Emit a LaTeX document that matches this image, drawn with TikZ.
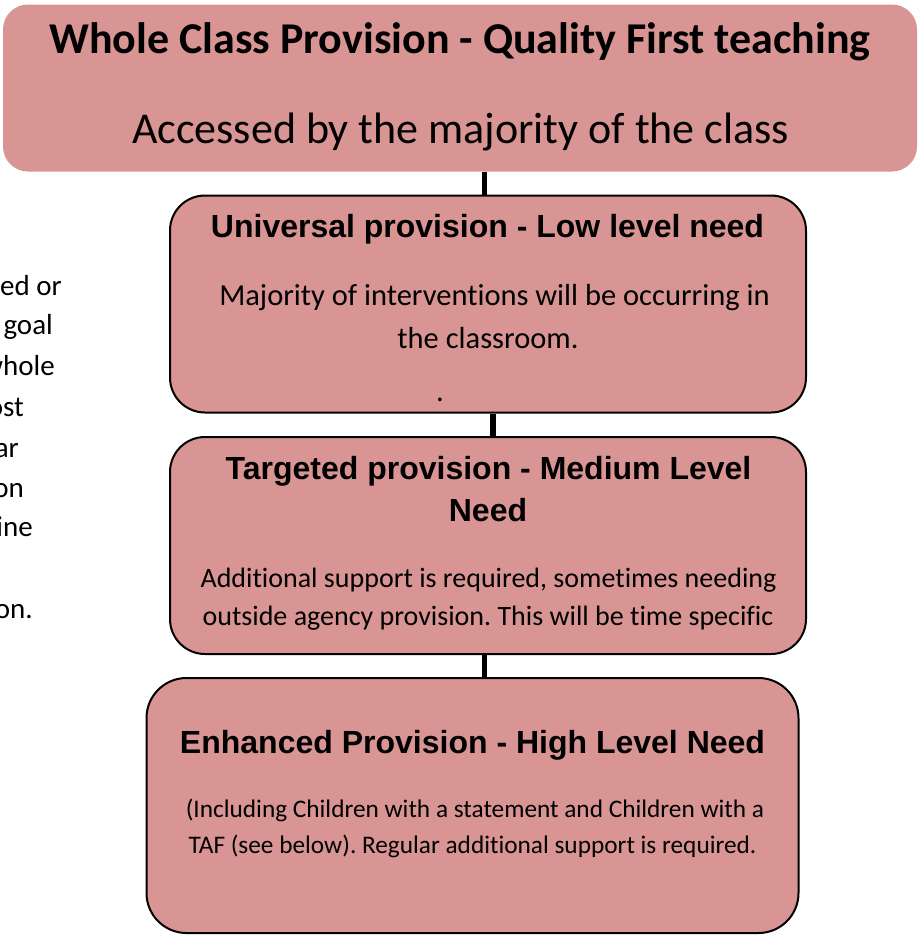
\documentclass[tikz,border=0pt]{standalone}
\usepackage{fontspec}
\setmainfont{Carlito}[Ligatures=NoCommon]
\newfontfamily\arialf{Liberation Sans}
\definecolor{boxpink}{RGB}{217,149,148}
\frenchspacing
\tikzset{
  pinkbox/.style={fill=boxpink, draw=black, line width=2pt, rounded corners=35pt, inner sep=0pt},
  topbox/.style={fill=boxpink, draw=none, rounded corners=25pt, inner sep=0pt},
  conn/.style={draw=black, line width=5.5pt},
  txt/.style={anchor=base, inner sep=0pt, text=black},
  bodytxt/.style={txt, font=\fontsize{30.5}{36}\selectfont},
  bodytxtb/.style={txt, font=\fontsize{28}{34}\selectfont},
  bodytxtc/.style={txt, font=\fontsize{25.3}{30}\selectfont},
  headtxt/.style={txt, font=\arialf\bfseries\fontsize{32}{38}\selectfont},
  sidetxt/.style={anchor=base east, inner sep=0pt, font=\fontsize{29}{35}\selectfont}
}
\begin{document}
\begin{tikzpicture}[x=1pt,y={(0pt,-1pt)}]
\useasboundingbox (0,0) rectangle (918,935);
% left clipped text
\begin{scope}
\clip (0,0) rectangle (140,935);
\node[sidetxt] (s1) at (62,295) {ed or};
\node[sidetxt] (s2) at (53,334) {goal};
\node[sidetxt] (s3) at (55,375) {whole};
\node[sidetxt] (s4) at (24,416) {ost};
\node[sidetxt] (s5) at (19,457) {ar};
\node[sidetxt] (s6) at (24,497) {on};
\node[sidetxt] (s7) at (33,536) {ine};
\node[sidetxt] (s8) at (33,618) {on.};
\end{scope}
% boxes
\node[topbox, minimum width=914pt, minimum height=167pt] (top) at (460,88) {};
\node[pinkbox, minimum width=636pt, minimum height=217pt] (b2) at (488,304) {};
\node[pinkbox, minimum width=636pt, minimum height=217pt] (b3) at (488,545.5) {};
\node[pinkbox, rounded corners=40pt, minimum width=652pt, minimum height=255pt] (b4) at (472.5,805.5) {};
% connectors
\draw[conn] ([xshift=-3.5pt]b2.north) -- ([xshift=-3.5pt]b2.north |- top.south);
\draw[conn] ([xshift=5pt]b3.north) -- ([xshift=5pt]b3.north |- b2.south);
\draw[conn] ([xshift=12pt]b4.north) -- ([xshift=12pt]b4.north |- b3.south);
% texts
\node[txt, font=\bfseries\fontsize{44}{52}\selectfont] (t1) at (460,53) {Whole Class Provision - Quality First teaching};
\node[txt, font=\fontsize{44}{52}\selectfont] (t2) at (460.5,143) {Accessed by the majority of the class};
\node[headtxt] (h2) at (487.5,237) {Universal provision - Low level need};
\node[bodytxt] (p2a) at (494.5,305) {Majority of interventions will be occurring in};
\node[bodytxt] (p2b) at (488,348) {the classroom.};
\node[bodytxt] (dot) at (440,401) {.};
\node[headtxt] (h3a) at (488.5,479) {Targeted provision - Medium Level};
\node[headtxt] (h3b) at (488,521) {Need};
\node[bodytxtb] (p3a) at (488.5,587) {Additional support is required, sometimes needing};
\node[bodytxtb] (p3b) at (488,625) {outside agency provision. This will be time specific};
\node[headtxt] (h4) at (472.5,753) {Enhanced Provision - High Level Need};
\node[bodytxtc] (p4a) at (475,817) {(Including Children with a statement and Children with a};
\node[bodytxtc] (p4b) at (472.5,853) {TAF (see below). Regular additional support is required.};
\end{tikzpicture}
\end{document}
